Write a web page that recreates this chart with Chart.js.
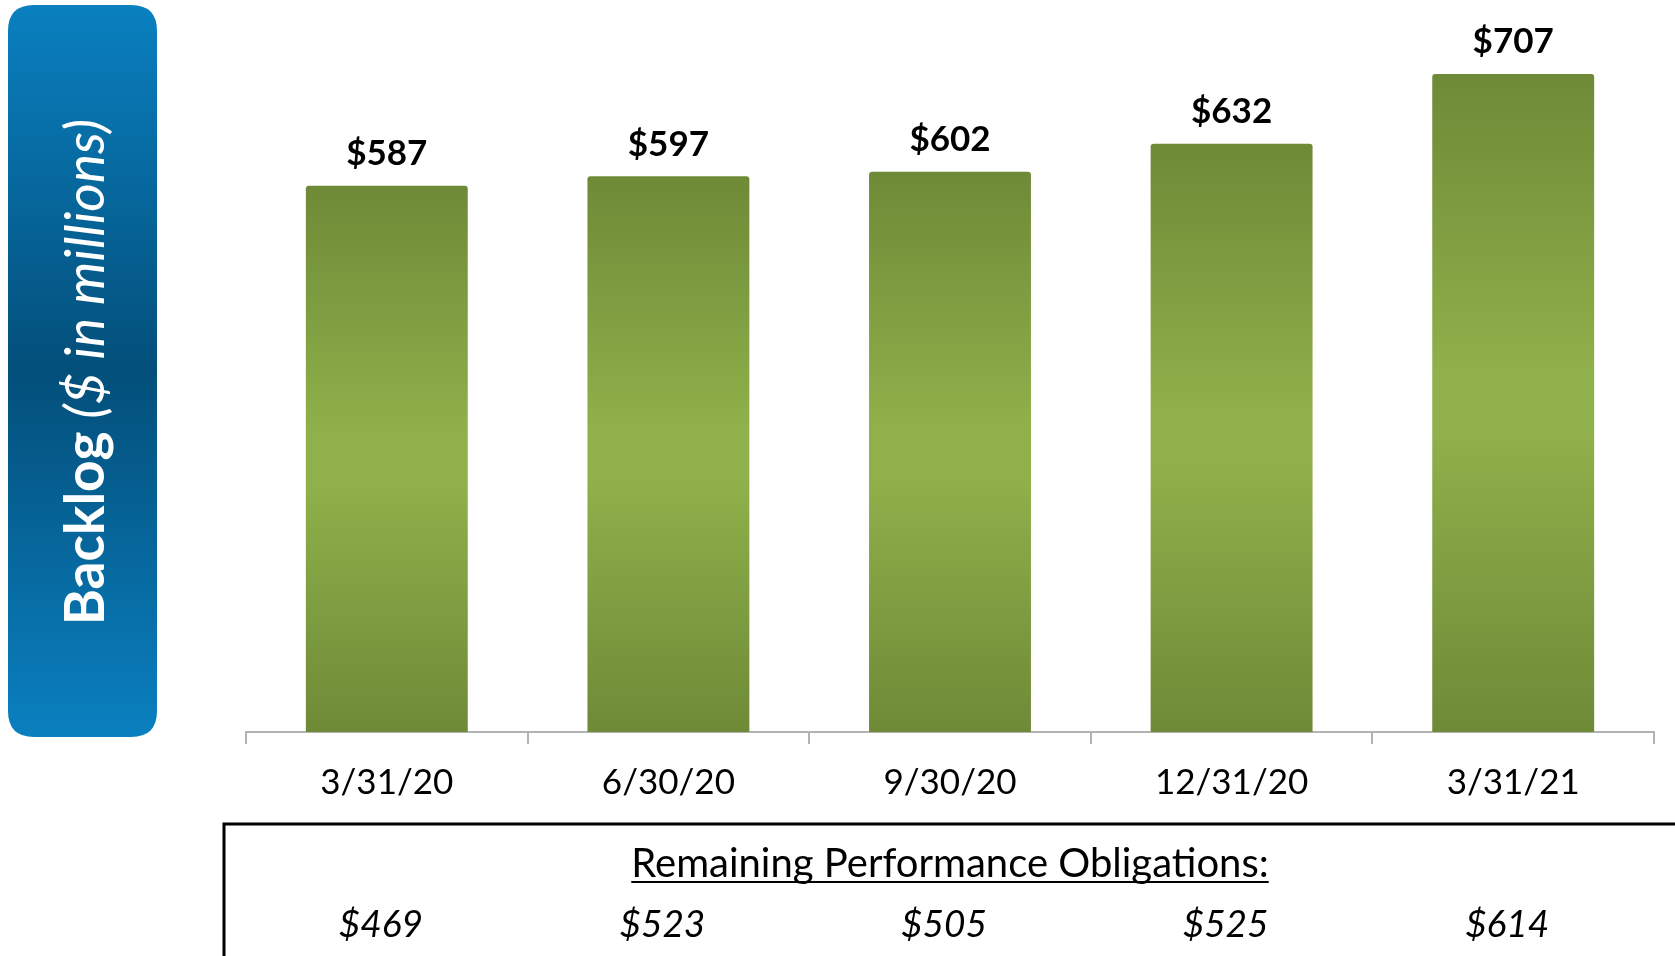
<!DOCTYPE html>
<html>
<head>
<meta charset="utf-8">
<script src="https://cdn.jsdelivr.net/npm/chart.js@4/dist/chart.umd.min.js"></script>
<style>
  html, body { margin: 0; padding: 0; background: #fff; }
  #wrap { width: 1675px; height: 956px; position: relative; }
</style>
</head>
<body>
<div id="wrap"><canvas id="backlog-chart"></canvas></div>
<script>
'use strict';

// data
var quarters = ['3/31/20', '6/30/20', '9/30/20', '12/31/20', '3/31/21'];
var backlog = [587, 597, 602, 632, 707];
var rpo = [469, 523, 505, 525, 614];
var rpoTitle = 'Remaining Performance Obligations:';
var axisTitleBold = 'Backlog';
var axisTitleItalic = ' ($ in millions)';

var FONT = 'Lato, "Open Sans", sans-serif';

function money(v) { return '$' + v; }

// bar fill: darker top and bottom, lighter middle
function barFill(c) {
    var chart = c.chart;
    if (!chart.chartArea) return '#7d9b40';
    var y = chart.scales.y;
    var top = y.getPixelForValue(backlog[c.dataIndex]);
    var base = y.getPixelForValue(0);
    var g = chart.ctx.createLinearGradient(0, top, 0, base);
    g.addColorStop(0, '#6e8a37');
    g.addColorStop(0.45, '#8fb04a');
    g.addColorStop(0.55, '#8fb04a');
    g.addColorStop(1, '#6e8a37');
    return g;
}

function roundRect(ctx, x, y, w, h, r) {
    ctx.beginPath();
    ctx.moveTo(x + r, y);
    ctx.lineTo(x + w - r, y);
    ctx.quadraticCurveTo(x + w, y, x + w, y + r);
    ctx.lineTo(x + w, y + h - r);
    ctx.quadraticCurveTo(x + w, y + h, x + w - r, y + h);
    ctx.lineTo(x + r, y + h);
    ctx.quadraticCurveTo(x, y + h, x, y + h - r);
    ctx.lineTo(x, y + r);
    ctx.quadraticCurveTo(x, y, x + r, y);
    ctx.closePath();
}

var slideExtras = {
    id: 'slideExtras',
    beforeDraw: function (chart) {
        var ctx = chart.ctx;
        // blue side panel with the axis title
        ctx.save();
        var g = ctx.createLinearGradient(0, 5, 0, 737);
        g.addColorStop(0, '#0a80c0');
        g.addColorStop(0.5, '#034f7a');
        g.addColorStop(1, '#0a80c0');
        ctx.fillStyle = g;
        roundRect(ctx, 8, 5, 149, 732, 26);
        ctx.fill();

        ctx.translate(86, 372);
        ctx.rotate(-Math.PI / 2);
        ctx.fillStyle = '#fff';
        ctx.textBaseline = 'middle';
        ctx.font = 'bold 55px ' + FONT;
        var w1 = ctx.measureText(axisTitleBold).width;
        ctx.font = 'italic 55px ' + FONT;
        var w2 = ctx.measureText(axisTitleItalic).width;
        var x0 = -(w1 + w2) / 2;
        ctx.font = 'bold 55px ' + FONT;
        ctx.fillText(axisTitleBold, x0, 0);
        ctx.font = 'italic 55px ' + FONT;
        ctx.fillText(axisTitleItalic, x0 + w1, 0);
        ctx.restore();
    },
    afterDraw: function (chart) {
        var ctx = chart.ctx;
        var x = chart.scales.x;
        var area = chart.chartArea;
        var meta = chart.getDatasetMeta(0);

        // value labels above the bars
        ctx.save();
        ctx.fillStyle = '#000';
        ctx.textAlign = 'center';
        ctx.textBaseline = 'middle';
        ctx.font = 'bold 35px ' + FONT;
        meta.data.forEach(function (bar, i) {
            ctx.fillText(money(backlog[i]), bar.x, bar.y - 32);
        });

        // RPO box under the axis
        ctx.strokeStyle = '#000';
        ctx.lineWidth = 3;
        ctx.beginPath();
        ctx.moveTo(1680, 824);
        ctx.lineTo(224, 824);
        ctx.lineTo(224, 960);
        ctx.stroke();

        var cx = (area.left + area.right) / 2;
        ctx.font = '36px ' + FONT;
        var tw = ctx.measureText(rpoTitle).width;
        var size = Math.round(36 * 630 / tw);
        ctx.font = size + 'px ' + FONT;
        tw = ctx.measureText(rpoTitle).width;
        ctx.fillText(rpoTitle, cx, 864);
        ctx.lineWidth = 2;
        ctx.beginPath();
        ctx.moveTo(cx - tw / 2, 882);
        ctx.lineTo(cx + tw / 2, 882);
        ctx.stroke();

        ctx.font = 'italic 37px ' + FONT;
        rpo.forEach(function (v, i) {
            ctx.fillText(money(v), x.getPixelForValue(i) - 6, 925);
        });
        ctx.restore();
    }
};

var ctx = document.getElementById('backlog-chart').getContext('2d');
var chart = new Chart(ctx, {
    type: 'bar',
    data: {
        labels: quarters,
        datasets: [{
            data: backlog,
            backgroundColor: barFill,
            borderRadius: { topLeft: 3, topRight: 3 },
            borderSkipped: 'bottom',
            categoryPercentage: 0.575,
            barPercentage: 1
        }]
    },
    options: {
        responsive: true,
        maintainAspectRatio: false,
        animation: false,
        layout: { padding: { left: 246, right: 21, top: 6, bottom: 0 } },
        plugins: {
            legend: { display: false },
            tooltip: { enabled: false }
        },
        scales: {
            x: {
                afterFit: function (scale) { scale.height = 224; },
                grid: {
                    offset: true,
                    drawOnChartArea: false,
                    tickLength: 12,
                    color: '#b3b3b3',
                    lineWidth: 2
                },
                border: { color: '#b3b3b3', width: 2 },
                ticks: {
                    color: '#000',
                    padding: 18,
                    font: { family: FONT, size: 35 }
                }
            },
            y: {
                display: false,
                min: 0,
                max: 780
            }
        }
    },
    plugins: [slideExtras]
});
</script>
</body>
</html>
